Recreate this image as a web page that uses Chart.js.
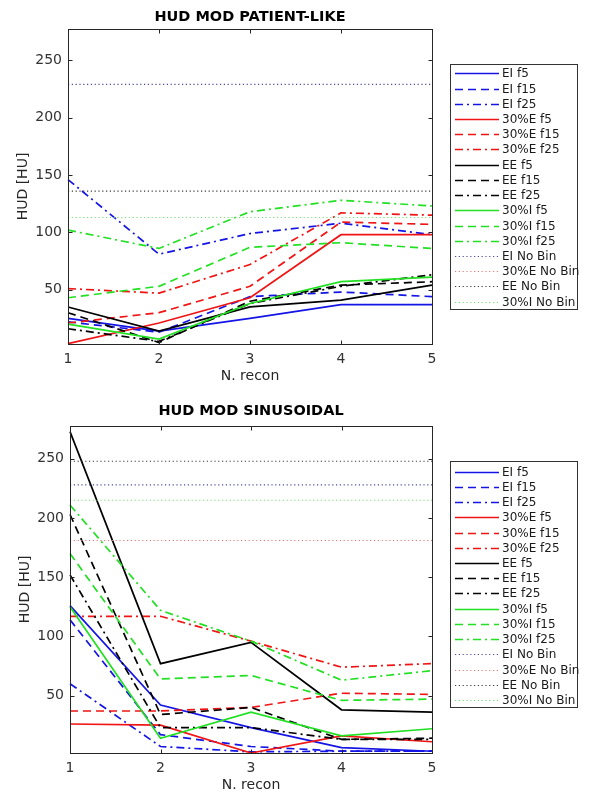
<!DOCTYPE html>
<html><head><meta charset="utf-8">
<script src="https://cdn.jsdelivr.net/npm/chart.js@4.4.1/dist/chart.umd.min.js"></script>
<style>
html,body{margin:0;padding:0;background:#fff;overflow:hidden}
.box{position:absolute;left:0;width:593px}
</style></head><body>
<div class="box" style="top:0;height:392px"><canvas id="c1"></canvas></div>
<div class="box" style="top:392px;height:402px"><canvas id="c2"></canvas></div>
<script>
// ---------- data ----------
const recons = ['1', '2', '3', '4', '5'];
const yTicks = [50, 100, 150, 200, 250];
const seriesLabels = ['EI f5', 'EI f15', 'EI f25', '30%E f5', '30%E f15', '30%E f25',
                      'EE f5', 'EE f15', 'EE f25', '30%I f5', '30%I f15', '30%I f25'];
const noBinLabels = ['EI No Bin', '30%E No Bin', 'EE No Bin', '30%I No Bin'];

// HUD MOD PATIENT-LIKE
const plEIf5    = [25, 14, 25, 37, 37];
const plEIf15   = [22, 13, 44, 48, 44];
const plEIf25   = [146, 81, 99, 108, 98];
const plE30f5   = [3, 21, 43, 98, 98];
const plE30f15  = [21, 30, 53, 109, 107];
const plE30f25  = [51, 47, 72, 117, 115];
const plEEf5    = [35, 14, 35, 41, 54];
const plEEf15   = [30, 4, 40, 54, 57];
const plEEf25   = [16, 5, 38, 53, 63];
const plI30f5   = [20, 7, 38, 57, 61];
const plI30f15  = [43, 53, 87, 91, 86];
const plI30f25  = [102, 86, 118, 128, 123];
const plNoBin   = [229, 277.3, 136, 113];   // EI, 30%E, EE, 30%I

// HUD MOD SINUSOIDAL
const snEIf5    = [126, 42, 23, 6, 3];
const snEIf15   = [114, 17, 7, 3, 3];
const snEIf25   = [60, 7, 2.5, 3, 3];
const snE30f5   = [26, 25, 1.5, 16, 11];
const snE30f15  = [37, 37, 40, 52, 51];
const snE30f25  = [117, 117, 96, 74, 77];
const snEEf5    = [273, 77, 95, 38, 36];
const snEEf15   = [203, 34, 40, 13, 14];
const snEEf25   = [152, 23, 23, 13, 13];
const snI30f5   = [125, 14, 36, 16, 22];
const snI30f15  = [170, 64, 67, 46, 47];
const snI30f25  = [211, 122, 96, 63, 71];
const snNoBin   = [228, 181, 248, 215];     // EI, 30%E, EE, 30%I

// ---------- styles ----------
const FONT = "'DejaVu Sans', 'Liberation Sans', Arial, sans-serif";
const groupColors = ['#1414e6', '#f01414', '#000000', '#22e022'];
const noBinColors = ['#4a4aa8', '#e07a7a', '#3a3a3a', '#74e074'];
const dashes = [[], [8, 5], [8, 4, 2, 4]];

function buildDatasets(seriesArr, noBin) {
  const ds = [];
  seriesArr.forEach((vals, i) => {
    const g = Math.floor(i / 3), v = i % 3;
    ds.push({ label: seriesLabels[i], data: vals, borderColor: groupColors[g],
      borderDash: dashes[v], borderWidth: 1.7, pointRadius: 0, tension: 0, fill: false });
  });
  noBin.forEach((val, g) => {
    ds.push({ label: noBinLabels[g], data: recons.map(() => val), borderColor: noBinColors[g],
      borderDash: [1.2, 2.6], borderWidth: 1.1, pointRadius: 0, tension: 0, fill: false });
  });
  ds.forEach((d, i) => { d.order = ds.length - i; });
  return ds;
}

const framePlugin = {
  id: 'frame',
  afterDatasetsDraw(chart, args, o) {
    const { ctx, chartArea: a, scales: { x, y } } = chart;
    ctx.save();
    ctx.strokeStyle = '#262626';
    ctx.lineWidth = 1;
    ctx.setLineDash([]);
    const L = Math.round(a.left) + 0.5, T = Math.round(a.top) + 0.5;
    const R = Math.round(a.right) + 0.5, B = Math.round(a.bottom) + 0.5;
    ctx.strokeRect(L, T, R - L, B - T);
    ctx.beginPath();
    x.ticks.forEach((t, i) => {
      const px = Math.round(x.getPixelForTick(i)) + 0.5;
      ctx.moveTo(px, B); ctx.lineTo(px, B - 4);
      ctx.moveTo(px, T); ctx.lineTo(px, T + 4);
    });
    y.ticks.forEach((t, i) => {
      const py = Math.round(y.getPixelForTick(i)) + 0.5;
      ctx.moveTo(L, py); ctx.lineTo(L + 4, py);
      ctx.moveTo(R, py); ctx.lineTo(R - 4, py);
    });
    ctx.stroke();

    // legend box
    const [bl, bt, br, bb] = o.box;
    ctx.fillStyle = '#fff';
    ctx.fillRect(bl, bt, br - bl, bb - bt);
    ctx.strokeStyle = '#333';
    ctx.strokeRect(bl + 0.5, bt + 0.5, br - bl, bb - bt);
    ctx.font = '12px ' + FONT;
    ctx.textBaseline = 'middle';
    ctx.textAlign = 'left';
    chart.data.datasets.forEach((d, i) => {
      const yy = Math.round(o.first + i * o.step) + 0.5;
      ctx.beginPath();
      ctx.strokeStyle = d.borderColor;
      ctx.lineWidth = d.borderWidth;
      ctx.setLineDash(d.borderDash || []);
      ctx.moveTo(bl + 5, yy); ctx.lineTo(bl + 49, yy);
      ctx.stroke();
      ctx.setLineDash([]);
      ctx.fillStyle = '#1a1a1a';
      ctx.fillText(d.label, bl + 52, yy + 0.5);
    });
    ctx.restore();
  }
};

function makeChart(id, title, datasets, cfg) {
  const tickFont = { family: FONT, size: 14 };
  return new Chart(document.getElementById(id), {
    type: 'line',
    data: { labels: recons, datasets },
    plugins: [framePlugin],
    options: {
      responsive: true, maintainAspectRatio: false, animation: false,
      layout: { padding: { left: 0, right: 593 - cfg.right, top: 0, bottom: 0 } },
      plugins: {
        legend: { display: false }, tooltip: { enabled: false },
        title: { display: true, text: title, color: '#000', fullSize: false,
          font: { family: FONT, size: 14.5, weight: 'bold' },
          padding: { top: cfg.tTop, bottom: cfg.tBottom } },
        frame: { box: cfg.legendBox, first: cfg.legFirst, step: cfg.legStep }
      },
      scales: {
        x: {
          type: 'category', offset: false,
          grid: { display: false, drawTicks: false }, border: { display: false },
          ticks: { font: tickFont, color: '#333', padding: 7, maxRotation: 0, autoSkip: false },
          title: { display: true, text: 'N. recon', color: '#262626', font: tickFont,
            padding: { top: 0, bottom: cfg.xTitleBottom } },
          afterFit(s) { s.height = cfg.xh; }
        },
        y: {
          type: 'linear', min: cfg.ymin, max: cfg.ymax,
          afterBuildTicks(s) { s.ticks = yTicks.map(v => ({ value: v })); },
          grid: { display: false, drawTicks: false }, border: { display: false },
          ticks: { font: tickFont, color: '#333', padding: 6 },
          title: { display: true, text: 'HUD [HU]', color: '#262626', font: tickFont,
            padding: { top: cfg.yTitleTop, bottom: 0 } },
          afterFit(s) { s.width = cfg.yw; }
        }
      }
    }
  });
}

makeChart('c1', 'HUD MOD PATIENT-LIKE',
  buildDatasets([plEIf5, plEIf15, plEIf25, plE30f5, plE30f15, plE30f25,
                 plEEf5, plEEf15, plEEf25, plI30f5, plI30f15, plI30f25], plNoBin),
  { right: 432, yw: 68, xh: 48, tTop: 8.3, tBottom: 3.3, ymin: 2.7, ymax: 277.3,
    xTitleBottom: 6.9, yTitleTop: 14.6, legendBox: [450, 64, 577, 309], legFirst: 73.3, legStep: 15.22 });

makeChart('c2', 'HUD MOD SINUSOIDAL',
  buildDatasets([snEIf5, snEIf15, snEIf25, snE30f5, snE30f15, snE30f25,
                 snEEf5, snEEf15, snEEf25, snI30f5, snI30f15, snI30f25], snNoBin),
  { right: 432, yw: 70, xh: 41, tTop: 11, tBottom: 5.3, ymin: 1.5, ymax: 278,
    xTitleBottom: 0, yTitleTop: 16.6, legendBox: [450, 69, 577, 315], legFirst: 79.7, legStep: 15.22 });
</script>
</body></html>
